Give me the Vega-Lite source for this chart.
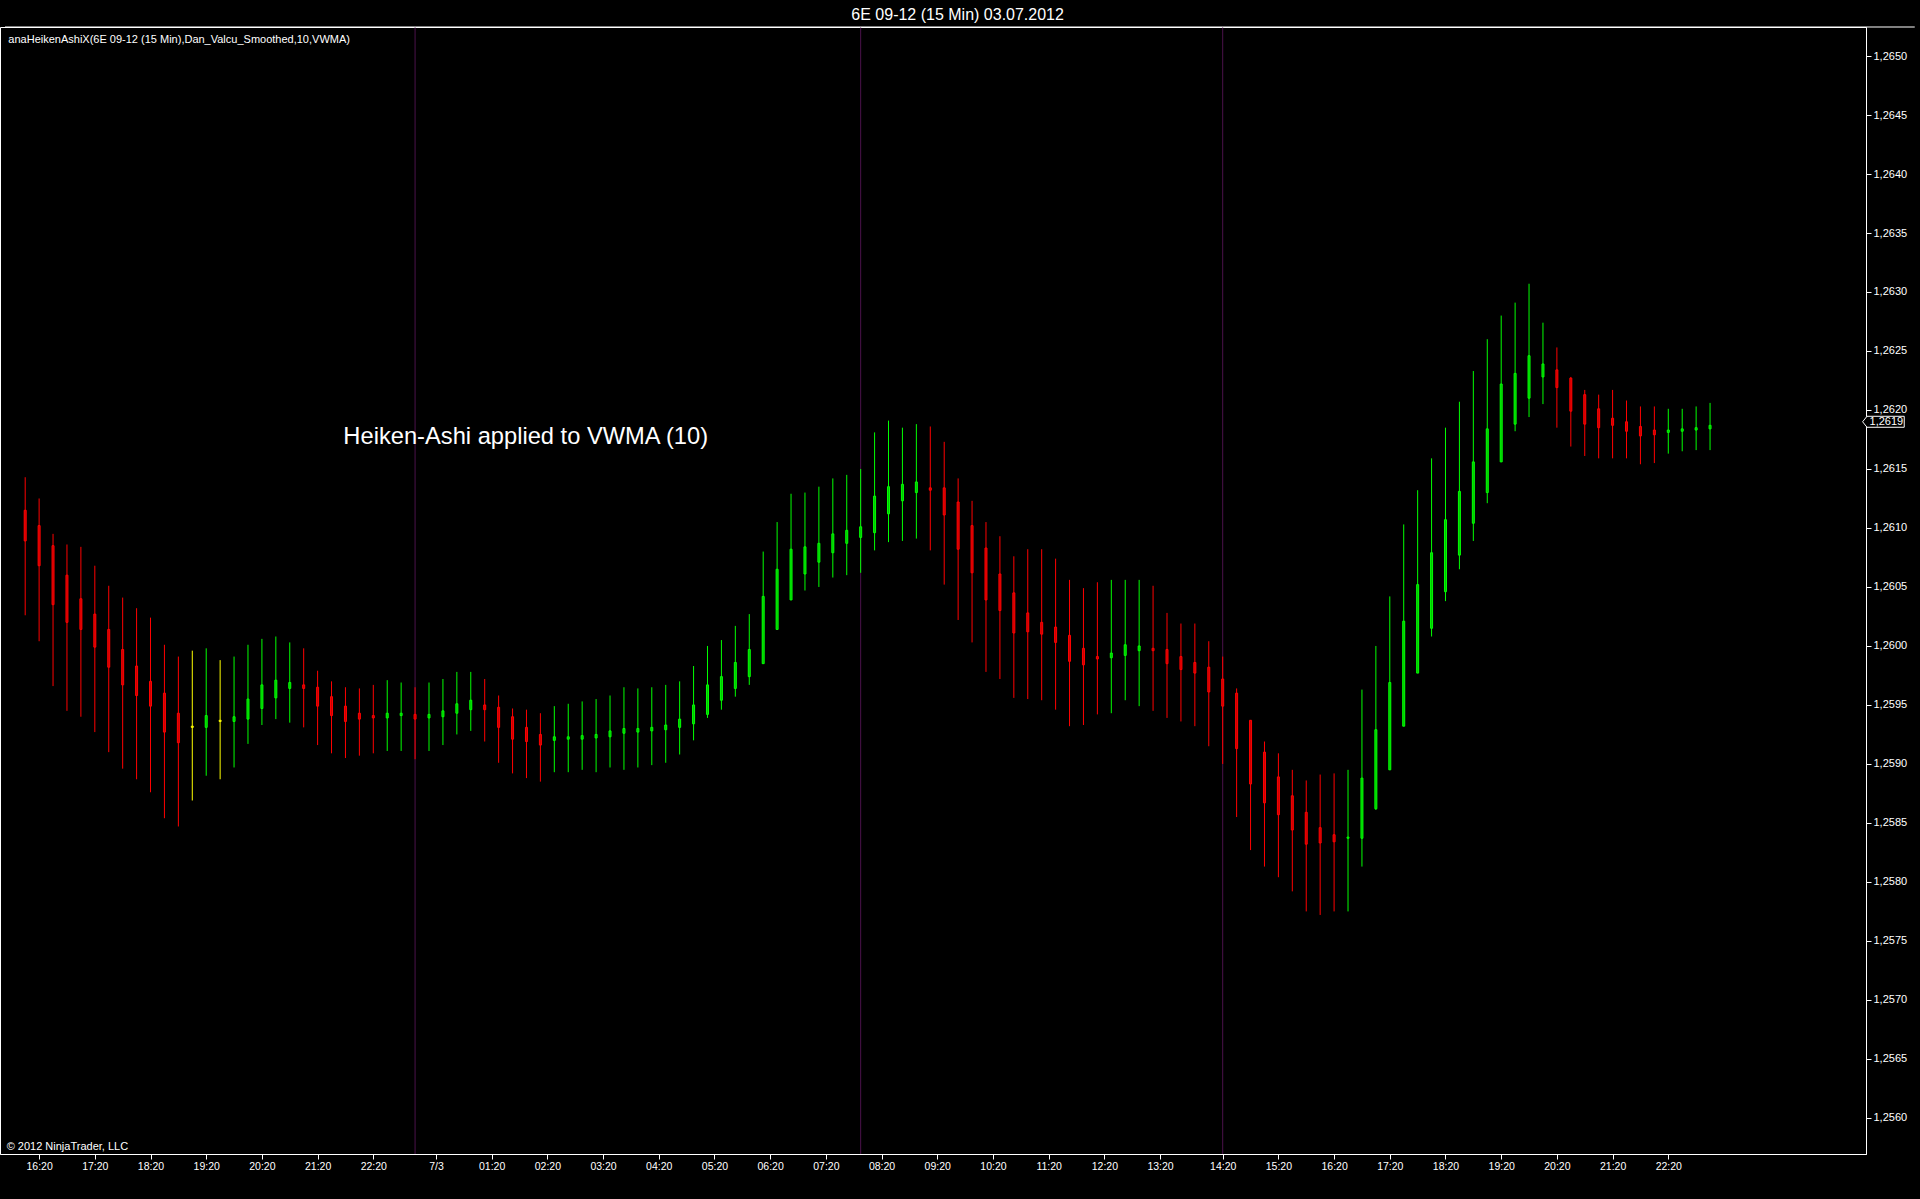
{
  "$schema": "https://vega.github.io/schema/vega-lite/v6.json",
  "width": 1866,
  "height": 1127,
  "autosize": {"type": "none"},
  "padding": {"left": 0, "top": 27, "right": 54, "bottom": 45},
  "background": "#000000",
  "title": {
    "text": "6E 09-12 (15 Min)  03.07.2012",
    "color": "#ffffff",
    "font": "Liberation Sans",
    "fontSize": 16,
    "fontWeight": "normal",
    "anchor": "middle",
    "frame": "bounds",
    "offset": 4
  },
  "config": {
    "font": "Liberation Sans",
    "view": {"stroke": "#ffffff", "strokeWidth": 1},
    "axis": {
      "grid": false,
      "domainColor": "#ffffff",
      "tickColor": "#ffffff",
      "labelColor": "#ffffff",
      "labelFont": "Liberation Sans",
      "title": null
    }
  },
  "datasets": {
    "sessions": [{"i": 28}, {"i": 60}, {"i": 86}],
    "candles": [
      {"i": 0, "o": 1.26115, "h": 1.26143, "l": 1.26026, "c": 1.26089, "t": "down"},
      {"i": 1, "o": 1.26102, "h": 1.26125, "l": 1.26004, "c": 1.26068, "t": "down"},
      {"i": 2, "o": 1.26085, "h": 1.26095, "l": 1.25966, "c": 1.26035, "t": "down"},
      {"i": 3, "o": 1.26060, "h": 1.26086, "l": 1.25945, "c": 1.26020, "t": "down"},
      {"i": 4, "o": 1.26040, "h": 1.26084, "l": 1.25940, "c": 1.26014, "t": "down"},
      {"i": 5, "o": 1.26027, "h": 1.26068, "l": 1.25927, "c": 1.25999, "t": "down"},
      {"i": 6, "o": 1.26014, "h": 1.26051, "l": 1.25910, "c": 1.25982, "t": "down"},
      {"i": 7, "o": 1.25997, "h": 1.26041, "l": 1.25896, "c": 1.25967, "t": "down"},
      {"i": 8, "o": 1.25983, "h": 1.26032, "l": 1.25887, "c": 1.25958, "t": "down"},
      {"i": 9, "o": 1.25970, "h": 1.26024, "l": 1.25876, "c": 1.25949, "t": "down"},
      {"i": 10, "o": 1.25960, "h": 1.26001, "l": 1.25854, "c": 1.25927, "t": "down"},
      {"i": 11, "o": 1.25943, "h": 1.25991, "l": 1.25847, "c": 1.25918, "t": "down"},
      {"i": 12, "o": 1.25932, "h": 1.25996, "l": 1.25869, "c": 1.25931, "t": "flat"},
      {"i": 13, "o": 1.25931, "h": 1.25998, "l": 1.25890, "c": 1.25941, "t": "up"},
      {"i": 14, "o": 1.25937, "h": 1.25988, "l": 1.25887, "c": 1.25936, "t": "flat"},
      {"i": 15, "o": 1.25936, "h": 1.25991, "l": 1.25897, "c": 1.25940, "t": "up"},
      {"i": 16, "o": 1.25938, "h": 1.26001, "l": 1.25917, "c": 1.25955, "t": "up"},
      {"i": 17, "o": 1.25947, "h": 1.26006, "l": 1.25933, "c": 1.25967, "t": "up"},
      {"i": 18, "o": 1.25956, "h": 1.26008, "l": 1.25938, "c": 1.25971, "t": "up"},
      {"i": 19, "o": 1.25964, "h": 1.26003, "l": 1.25935, "c": 1.25969, "t": "up"},
      {"i": 20, "o": 1.25967, "h": 1.25998, "l": 1.25931, "c": 1.25964, "t": "down"},
      {"i": 21, "o": 1.25965, "h": 1.25979, "l": 1.25916, "c": 1.25949, "t": "down"},
      {"i": 22, "o": 1.25957, "h": 1.25970, "l": 1.25909, "c": 1.25941, "t": "down"},
      {"i": 23, "o": 1.25949, "h": 1.25965, "l": 1.25905, "c": 1.25936, "t": "down"},
      {"i": 24, "o": 1.25943, "h": 1.25964, "l": 1.25907, "c": 1.25938, "t": "down"},
      {"i": 25, "o": 1.25941, "h": 1.25967, "l": 1.25909, "c": 1.25939, "t": "down"},
      {"i": 26, "o": 1.25939, "h": 1.25971, "l": 1.25911, "c": 1.25943, "t": "up"},
      {"i": 27, "o": 1.25941, "h": 1.25969, "l": 1.25911, "c": 1.25943, "t": "up"},
      {"i": 28, "o": 1.25942, "h": 1.25965, "l": 1.25904, "c": 1.25938, "t": "down"},
      {"i": 29, "o": 1.25939, "h": 1.25969, "l": 1.25911, "c": 1.25942, "t": "up"},
      {"i": 30, "o": 1.25940, "h": 1.25972, "l": 1.25916, "c": 1.25945, "t": "up"},
      {"i": 31, "o": 1.25943, "h": 1.25978, "l": 1.25925, "c": 1.25951, "t": "up"},
      {"i": 32, "o": 1.25946, "h": 1.25978, "l": 1.25928, "c": 1.25954, "t": "up"},
      {"i": 33, "o": 1.25950, "h": 1.25972, "l": 1.25919, "c": 1.25946, "t": "down"},
      {"i": 34, "o": 1.25948, "h": 1.25958, "l": 1.25901, "c": 1.25931, "t": "down"},
      {"i": 35, "o": 1.25940, "h": 1.25947, "l": 1.25892, "c": 1.25921, "t": "down"},
      {"i": 36, "o": 1.25931, "h": 1.25946, "l": 1.25888, "c": 1.25919, "t": "down"},
      {"i": 37, "o": 1.25925, "h": 1.25943, "l": 1.25885, "c": 1.25916, "t": "down"},
      {"i": 38, "o": 1.25920, "h": 1.25949, "l": 1.25893, "c": 1.25923, "t": "up"},
      {"i": 39, "o": 1.25921, "h": 1.25951, "l": 1.25893, "c": 1.25923, "t": "up"},
      {"i": 40, "o": 1.25921, "h": 1.25953, "l": 1.25895, "c": 1.25924, "t": "up"},
      {"i": 41, "o": 1.25922, "h": 1.25955, "l": 1.25893, "c": 1.25925, "t": "up"},
      {"i": 42, "o": 1.25923, "h": 1.25958, "l": 1.25897, "c": 1.25928, "t": "up"},
      {"i": 43, "o": 1.25926, "h": 1.25965, "l": 1.25895, "c": 1.25930, "t": "up"},
      {"i": 44, "o": 1.25927, "h": 1.25964, "l": 1.25897, "c": 1.25930, "t": "up"},
      {"i": 45, "o": 1.25928, "h": 1.25965, "l": 1.25899, "c": 1.25931, "t": "up"},
      {"i": 46, "o": 1.25929, "h": 1.25967, "l": 1.25901, "c": 1.25933, "t": "up"},
      {"i": 47, "o": 1.25931, "h": 1.25970, "l": 1.25908, "c": 1.25938, "t": "up"},
      {"i": 48, "o": 1.25934, "h": 1.25983, "l": 1.25920, "c": 1.25950, "t": "up"},
      {"i": 49, "o": 1.25942, "h": 1.26000, "l": 1.25939, "c": 1.25967, "t": "up"},
      {"i": 50, "o": 1.25954, "h": 1.26005, "l": 1.25946, "c": 1.25974, "t": "up"},
      {"i": 51, "o": 1.25964, "h": 1.26017, "l": 1.25957, "c": 1.25986, "t": "up"},
      {"i": 52, "o": 1.25974, "h": 1.26027, "l": 1.25967, "c": 1.25997, "t": "up"},
      {"i": 53, "o": 1.25985, "h": 1.26080, "l": 1.25985, "c": 1.26042, "t": "up"},
      {"i": 54, "o": 1.26014, "h": 1.26105, "l": 1.26014, "c": 1.26065, "t": "up"},
      {"i": 55, "o": 1.26039, "h": 1.26129, "l": 1.26039, "c": 1.26082, "t": "up"},
      {"i": 56, "o": 1.26061, "h": 1.26130, "l": 1.26047, "c": 1.26084, "t": "up"},
      {"i": 57, "o": 1.26071, "h": 1.26135, "l": 1.26050, "c": 1.26087, "t": "up"},
      {"i": 58, "o": 1.26079, "h": 1.26142, "l": 1.26058, "c": 1.26095, "t": "up"},
      {"i": 59, "o": 1.26087, "h": 1.26145, "l": 1.26060, "c": 1.26098, "t": "up"},
      {"i": 60, "o": 1.26092, "h": 1.26150, "l": 1.26062, "c": 1.26101, "t": "up"},
      {"i": 61, "o": 1.26096, "h": 1.26181, "l": 1.26081, "c": 1.26127, "t": "up"},
      {"i": 62, "o": 1.26112, "h": 1.26191, "l": 1.26088, "c": 1.26135, "t": "up"},
      {"i": 63, "o": 1.26123, "h": 1.26185, "l": 1.26089, "c": 1.26137, "t": "up"},
      {"i": 64, "o": 1.26130, "h": 1.26188, "l": 1.26091, "c": 1.26139, "t": "up"},
      {"i": 65, "o": 1.26134, "h": 1.26186, "l": 1.26081, "c": 1.26132, "t": "down"},
      {"i": 66, "o": 1.26134, "h": 1.26173, "l": 1.26052, "c": 1.26111, "t": "down"},
      {"i": 67, "o": 1.26122, "h": 1.26142, "l": 1.26022, "c": 1.26082, "t": "down"},
      {"i": 68, "o": 1.26102, "h": 1.26123, "l": 1.26003, "c": 1.26062, "t": "down"},
      {"i": 69, "o": 1.26083, "h": 1.26105, "l": 1.25978, "c": 1.26039, "t": "down"},
      {"i": 70, "o": 1.26061, "h": 1.26093, "l": 1.25972, "c": 1.26030, "t": "down"},
      {"i": 71, "o": 1.26045, "h": 1.26076, "l": 1.25956, "c": 1.26011, "t": "down"},
      {"i": 72, "o": 1.26028, "h": 1.26082, "l": 1.25955, "c": 1.26012, "t": "down"},
      {"i": 73, "o": 1.26020, "h": 1.26082, "l": 1.25954, "c": 1.26010, "t": "down"},
      {"i": 74, "o": 1.26016, "h": 1.26074, "l": 1.25946, "c": 1.26003, "t": "down"},
      {"i": 75, "o": 1.26009, "h": 1.26056, "l": 1.25932, "c": 1.25987, "t": "down"},
      {"i": 76, "o": 1.25998, "h": 1.26049, "l": 1.25933, "c": 1.25984, "t": "down"},
      {"i": 77, "o": 1.25991, "h": 1.26054, "l": 1.25942, "c": 1.25989, "t": "down"},
      {"i": 78, "o": 1.25990, "h": 1.26056, "l": 1.25943, "c": 1.25994, "t": "up"},
      {"i": 79, "o": 1.25992, "h": 1.26056, "l": 1.25954, "c": 1.26001, "t": "up"},
      {"i": 80, "o": 1.25996, "h": 1.26056, "l": 1.25949, "c": 1.26000, "t": "up"},
      {"i": 81, "o": 1.25998, "h": 1.26051, "l": 1.25945, "c": 1.25996, "t": "down"},
      {"i": 82, "o": 1.25997, "h": 1.26028, "l": 1.25939, "c": 1.25985, "t": "down"},
      {"i": 83, "o": 1.25991, "h": 1.26019, "l": 1.25936, "c": 1.25980, "t": "down"},
      {"i": 84, "o": 1.25986, "h": 1.26019, "l": 1.25932, "c": 1.25977, "t": "down"},
      {"i": 85, "o": 1.25982, "h": 1.26004, "l": 1.25915, "c": 1.25961, "t": "down"},
      {"i": 86, "o": 1.25972, "h": 1.25991, "l": 1.25900, "c": 1.25949, "t": "down"},
      {"i": 87, "o": 1.25960, "h": 1.25964, "l": 1.25855, "c": 1.25913, "t": "down"},
      {"i": 88, "o": 1.25937, "h": 1.25937, "l": 1.25827, "c": 1.25883, "t": "down"},
      {"i": 89, "o": 1.25910, "h": 1.25919, "l": 1.25813, "c": 1.25867, "t": "down"},
      {"i": 90, "o": 1.25889, "h": 1.25909, "l": 1.25804, "c": 1.25857, "t": "down"},
      {"i": 91, "o": 1.25873, "h": 1.25895, "l": 1.25792, "c": 1.25844, "t": "down"},
      {"i": 92, "o": 1.25859, "h": 1.25886, "l": 1.25775, "c": 1.25832, "t": "down"},
      {"i": 93, "o": 1.25846, "h": 1.25891, "l": 1.25772, "c": 1.25833, "t": "down"},
      {"i": 94, "o": 1.25840, "h": 1.25892, "l": 1.25775, "c": 1.25834, "t": "down"},
      {"i": 95, "o": 1.25837, "h": 1.25895, "l": 1.25775, "c": 1.25838, "t": "up"},
      {"i": 96, "o": 1.25837, "h": 1.25963, "l": 1.25813, "c": 1.25888, "t": "up"},
      {"i": 97, "o": 1.25862, "h": 1.26000, "l": 1.25861, "c": 1.25929, "t": "up"},
      {"i": 98, "o": 1.25895, "h": 1.26042, "l": 1.25895, "c": 1.25969, "t": "up"},
      {"i": 99, "o": 1.25932, "h": 1.26103, "l": 1.25932, "c": 1.26021, "t": "up"},
      {"i": 100, "o": 1.25977, "h": 1.26132, "l": 1.25977, "c": 1.26052, "t": "up"},
      {"i": 101, "o": 1.26015, "h": 1.26159, "l": 1.26008, "c": 1.26079, "t": "up"},
      {"i": 102, "o": 1.26046, "h": 1.26185, "l": 1.26038, "c": 1.26107, "t": "up"},
      {"i": 103, "o": 1.26077, "h": 1.26207, "l": 1.26065, "c": 1.26131, "t": "up"},
      {"i": 104, "o": 1.26104, "h": 1.26233, "l": 1.26089, "c": 1.26156, "t": "up"},
      {"i": 105, "o": 1.26130, "h": 1.26260, "l": 1.26121, "c": 1.26184, "t": "up"},
      {"i": 106, "o": 1.26156, "h": 1.26280, "l": 1.26156, "c": 1.26222, "t": "up"},
      {"i": 107, "o": 1.26188, "h": 1.26291, "l": 1.26182, "c": 1.26231, "t": "up"},
      {"i": 108, "o": 1.26210, "h": 1.26307, "l": 1.26194, "c": 1.26246, "t": "up"},
      {"i": 109, "o": 1.26228, "h": 1.26274, "l": 1.26205, "c": 1.26239, "t": "up"},
      {"i": 110, "o": 1.26234, "h": 1.26253, "l": 1.26185, "c": 1.26219, "t": "down"},
      {"i": 111, "o": 1.26227, "h": 1.26228, "l": 1.26169, "c": 1.26199, "t": "down"},
      {"i": 112, "o": 1.26213, "h": 1.26217, "l": 1.26161, "c": 1.26188, "t": "down"},
      {"i": 113, "o": 1.26201, "h": 1.26213, "l": 1.26159, "c": 1.26185, "t": "down"},
      {"i": 114, "o": 1.26193, "h": 1.26217, "l": 1.26159, "c": 1.26187, "t": "down"},
      {"i": 115, "o": 1.26190, "h": 1.26208, "l": 1.26159, "c": 1.26182, "t": "down"},
      {"i": 116, "o": 1.26186, "h": 1.26203, "l": 1.26154, "c": 1.26178, "t": "down"},
      {"i": 117, "o": 1.26183, "h": 1.26203, "l": 1.26155, "c": 1.26179, "t": "down"},
      {"i": 118, "o": 1.26181, "h": 1.26201, "l": 1.26163, "c": 1.26183, "t": "up"},
      {"i": 119, "o": 1.26182, "h": 1.26201, "l": 1.26165, "c": 1.26184, "t": "up"},
      {"i": 120, "o": 1.26183, "h": 1.26203, "l": 1.26166, "c": 1.26185, "t": "up"},
      {"i": 121, "o": 1.26184, "h": 1.26206, "l": 1.26166, "c": 1.26187, "t": "up"}
    ]
  },
  "layer": [
    {
      "data": {"name": "sessions"},
      "mark": {"type": "rule", "color": "#4b124b", "strokeWidth": 1},
      "encoding": {
        "x": {
          "field": "i",
          "type": "quantitative",
          "scale": {"domain": [-1.45, 131.84], "nice": false, "zero": false},
          "axis": {
            "orient": "bottom",
            "values": [1, 5, 9, 13, 17, 21, 25, 29.5, 33.5, 37.5, 41.5, 45.5, 49.5, 53.5, 57.5, 61.5, 65.5, 69.5, 73.5, 77.5, 81.5, 86, 90, 94, 98, 102, 106, 110, 114, 118],
            "labelExpr": "{'1':'16:20','5':'17:20','9':'18:20','13':'19:20','17':'20:20','21':'21:20','25':'22:20','29.5':'7/3','33.5':'01:20','37.5':'02:20','41.5':'03:20','45.5':'04:20','49.5':'05:20','53.5':'06:20','57.5':'07:20','61.5':'08:20','65.5':'09:20','69.5':'10:20','73.5':'11:20','77.5':'12:20','81.5':'13:20','86':'14:20','90':'15:20','94':'16:20','98':'17:20','102':'18:20','106':'19:20','110':'20:20','114':'21:20','118':'22:20'}[datum.value]",
            "tickSize": 5,
            "labelPadding": 2,
            "labelFontSize": 10.5,
            "labelFlush": false,
            "labelOverlap": false
          }
        }
      }
    },
    {
      "data": {"name": "candles"},
      "mark": {"type": "rule", "strokeWidth": 1},
      "encoding": {
        "x": {"field": "i", "type": "quantitative"},
        "y": {
          "field": "l",
          "type": "quantitative",
          "scale": {"domain": [1.255694, 1.265246], "nice": false, "zero": false},
          "axis": {
            "orient": "right",
            "values": [1.256, 1.2565, 1.257, 1.2575, 1.258, 1.2585, 1.259, 1.2595, 1.26, 1.2605, 1.261, 1.2615, 1.262, 1.2625, 1.263, 1.2635, 1.264, 1.2645, 1.265],
            "labelExpr": "replace(format(datum.value, '.4f'), '.', ',')",
            "tickSize": 5,
            "labelPadding": 2,
            "labelFontSize": 11,
            "labelFlush": false,
            "labelOverlap": false
          }
        },
        "y2": {"field": "h"},
        "color": {
          "field": "t",
          "type": "nominal",
          "scale": {"domain": ["up", "down", "flat"], "range": ["#00ff00", "#ff0000", "#ffff00"]},
          "legend": null
        }
      }
    },
    {
      "data": {"name": "candles"},
      "mark": {"type": "bar", "width": 2, "strokeWidth": 1},
      "encoding": {
        "x": {"field": "i", "type": "quantitative"},
        "y": {"field": "o", "type": "quantitative"},
        "y2": {"field": "c"},
        "fill": {
          "field": "t",
          "type": "nominal",
          "scale": {"domain": ["up", "down", "flat"], "range": ["#00c400", "#c80000", "#c8c800"]},
          "legend": null
        },
        "stroke": {
          "field": "t",
          "type": "nominal",
          "scale": {"domain": ["up", "down", "flat"], "range": ["#00ff00", "#ff0000", "#ffff00"]},
          "legend": null
        }
      }
    },
    {
      "data": {"values": [{}]},
      "mark": {"type": "rule", "color": "#ffffff", "strokeWidth": 1},
      "encoding": {
        "x": {"datum": -1.45, "type": "quantitative"},
        "x2": {"datum": 135.7},
        "y": {"datum": 1.265246, "type": "quantitative"}
      }
    },
    {
      "data": {"values": [{}]},
      "mark": {"type": "text", "text": "Heiken-Ashi applied to VWMA (10)", "color": "#ffffff", "font": "Liberation Sans", "fontSize": 23.7, "align": "left", "baseline": "middle"},
      "encoding": {
        "x": {"datum": 22.85, "type": "quantitative"},
        "y": {"datum": 1.26177, "type": "quantitative"}
      }
    },
    {
      "data": {"values": [{}]},
      "mark": {"type": "text", "text": "anaHeikenAshiX(6E 09-12 (15 Min),Dan_Valcu_Smoothed,10,VWMA)", "color": "#ffffff", "font": "Liberation Sans", "fontSize": 11, "align": "left", "baseline": "middle"},
      "encoding": {
        "x": {"datum": -1.21, "type": "quantitative"},
        "y": {"datum": 1.265136, "type": "quantitative"}
      }
    },
    {
      "data": {"values": [{}]},
      "mark": {"type": "text", "text": "© 2012 NinjaTrader, LLC", "color": "#ffffff", "font": "Liberation Sans", "fontSize": 11, "align": "left", "baseline": "middle"},
      "encoding": {
        "x": {"datum": -1.33, "type": "quantitative"},
        "y": {"datum": 1.255756, "type": "quantitative"}
      }
    },
    {
      "data": {"values": [{}]},
      "mark": {"type": "point", "shape": "M -1 0 L -0.79 -0.264 L 1 -0.264 L 1 0.264 L -0.79 0.264 Z", "size": 1731, "filled": false, "fill": "#000000", "fillOpacity": 1, "stroke": "#ffffff", "strokeWidth": 1, "opacity": 1},
      "encoding": {
        "x": {"datum": 133.45, "type": "quantitative"},
        "y": {"datum": 1.2619, "type": "quantitative"}
      }
    },
    {
      "data": {"values": [{}]},
      "mark": {"type": "text", "text": "1,2619", "color": "#ffffff", "font": "Liberation Sans", "fontSize": 11, "align": "center", "baseline": "middle"},
      "encoding": {
        "x": {"datum": 133.66, "type": "quantitative"},
        "y": {"datum": 1.2619, "type": "quantitative"}
      }
    }
  ]
}
